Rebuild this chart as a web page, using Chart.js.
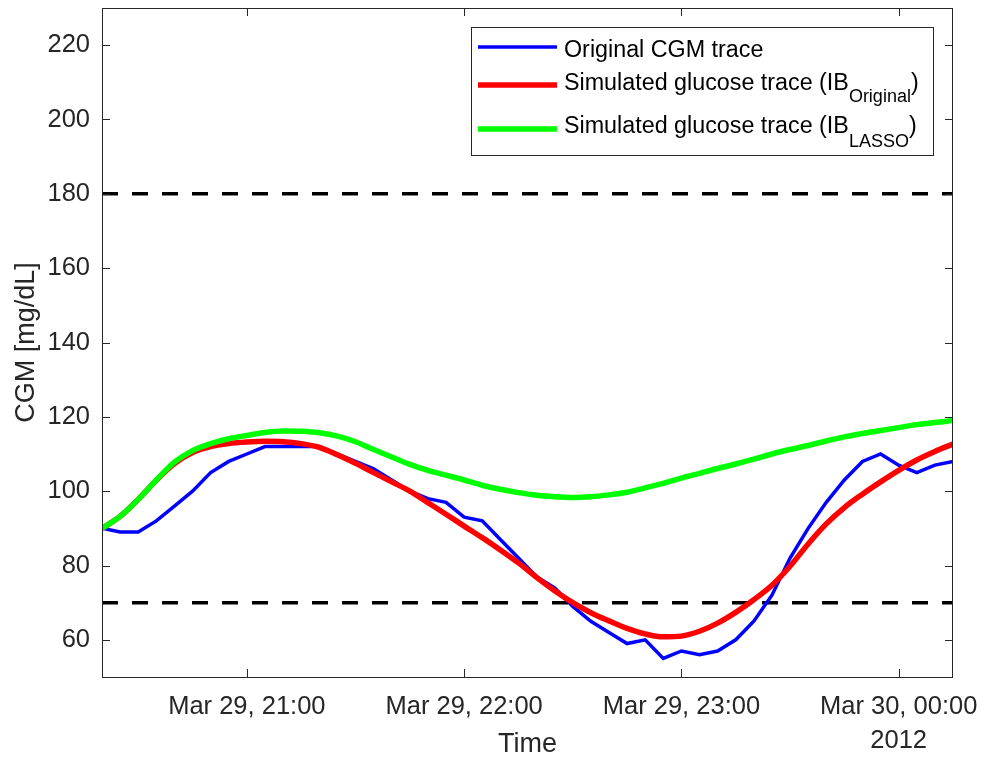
<!DOCTYPE html>
<html>
<head>
<meta charset="utf-8">
<script src="https://cdn.jsdelivr.net/npm/chart.js@4/dist/chart.umd.min.js"></script>
<style>
html,body{margin:0;padding:0;background:#ffffff;}
#wrap{width:982px;height:758px;position:relative;}
</style>
</head>
<body>
<div id="wrap"><canvas id="c" width="982" height="758"></canvas></div>
<script>
// ---- data (5-minute samples, Mar 29 20:20 -> Mar 30 00:15, 2012) ----
const times = [
  '20:20','20:25','20:30','20:35','20:40','20:45','20:50','20:55',
  '21:00','21:05','21:10','21:15','21:20','21:25','21:30','21:35','21:40','21:45','21:50','21:55',
  '22:00','22:05','22:10','22:15','22:20','22:25','22:30','22:35','22:40','22:45','22:50','22:55',
  '23:00','23:05','23:10','23:15','23:20','23:25','23:30','23:35','23:40','23:45','23:50','23:55',
  '00:00','00:05','00:10','00:15'
];
const cgmOriginal = [
  90,89,89,92,96,100,105,108,
  110,112,112,112,112,110,108,106,103,100,98,97,
  93,92,87,82,77,74,69,65,62,59,60,55,
  57,56,57,60,65,72,82,90,97,103,108,110,
  107,105,107,108
];
const simIBOriginal = [
  90,93.2,97.8,102.9,107.4,110.4,112,112.8,
  113.2,113.4,113.3,112.8,111.8,109.8,107.5,105,102.5,100,96.9,93.8,
  90.6,87.5,84.2,80.7,76.8,73.2,70,67.3,65.1,63.1,61.6,60.8,
  61,62.3,64.5,67.4,70.8,74.7,79.8,85.8,91.2,95.6,99.2,102.5,
  105.6,108.4,110.7,112.7
];
const simIBLasso = [
  90,93.2,97.8,103,107.8,110.9,112.8,114.1,
  115,115.8,116.2,116.1,115.7,114.8,113.3,111.2,109.2,107.2,105.6,104.3,
  103,101.6,100.5,99.6,98.9,98.5,98.3,98.5,99,99.7,100.9,102.1,
  103.5,104.8,106.1,107.3,108.6,110,111.2,112.3,113.5,114.6,115.5,116.3,
  117.1,117.9,118.5,119
];
const hypoThreshold = 70;
const hyperThreshold = 180;
const xTickTimes = ['21:00','22:00','23:00','00:00'];
const xTickLabels = [['Mar 29, 21:00'],['Mar 29, 22:00'],['Mar 29, 23:00'],['Mar 30, 00:00','2012']];
const yTickValues = [60,80,100,120,140,160,180,200,220];
const yMin = 50, yMax = 230;
const seriesNames = ['Original CGM trace','Simulated glucose trace (IB','Simulated glucose trace (IB'];
const seriesSubs = ['','Original','LASSO'];

// ---- helpers ----
function toMin(t){ const p=t.split(':').map(Number); const h=p[0]<12?p[0]+24:p[0]; return h*60+p[1]; }
function pts(arr){ return times.map((t,i)=>({x:toMin(t), y:arr[i]})); }
const xMin = toMin(times[0]), xMax = toMin(times[times.length-1]);
const FONT = "'Liberation Sans', Arial, Helvetica, sans-serif";
const AX = '#262626';

const frameAndLegend = {
  id:'frameAndLegend',
  afterDatasetsDraw(chart){
    const ctx = chart.ctx, a = chart.chartArea;
    const xs = chart.scales.x, ys = chart.scales.y;
    ctx.save();
    ctx.strokeStyle = AX; ctx.lineWidth = 1;
    ctx.strokeRect(Math.round(a.left)+0.5, Math.round(a.top)+0.5, Math.round(a.right-a.left)-1, Math.round(a.bottom-a.top));
    const TL = 8;
    ctx.beginPath();
    xTickTimes.forEach(t=>{
      const px = Math.round(xs.getPixelForValue(toMin(t)))+0.5;
      ctx.moveTo(px, a.bottom); ctx.lineTo(px, a.bottom-TL);
      ctx.moveTo(px, a.top); ctx.lineTo(px, a.top+TL);
    });
    yTickValues.forEach(v=>{
      const py = Math.round(ys.getPixelForValue(v))+0.5;
      ctx.moveTo(a.left, py); ctx.lineTo(a.left+TL, py);
      ctx.moveTo(a.right, py); ctx.lineTo(a.right-TL, py);
    });
    ctx.stroke();

    // legend
    const bx=471, by=27, bw=462, bh=128;
    ctx.fillStyle='#ffffff'; ctx.fillRect(bx,by,bw,bh);
    ctx.strokeStyle=AX; ctx.lineWidth=1; ctx.strokeRect(bx+0.5,by+0.5,bw,bh);
    const lineY=[47,85,129], baseY=[57,90,133], subBase=[0,102,147];
    const ds = chart.data.datasets;
    for(let i=0;i<3;i++){
      ctx.strokeStyle = ds[i].borderColor; ctx.lineWidth = ds[i].borderWidth;
      ctx.beginPath(); ctx.moveTo(478,lineY[i]); ctx.lineTo(557,lineY[i]); ctx.stroke();
      ctx.fillStyle='#000000'; ctx.textBaseline='alphabetic'; ctx.textAlign='left';
      ctx.font = '23.3px '+FONT;
      let x = 564;
      ctx.fillText(seriesNames[i], x, baseY[i]);
      if(seriesSubs[i]){
        x += ctx.measureText(seriesNames[i]).width;
        ctx.font = '18px '+FONT;
        ctx.fillText(seriesSubs[i], x, subBase[i]);
        x += ctx.measureText(seriesSubs[i]).width;
        ctx.font = '23.3px '+FONT;
        ctx.fillText(')', x, baseY[i]);
      }
    }
    ctx.restore();
  }
};

new Chart(document.getElementById('c'), {
  type:'line',
  data:{
    datasets:[
      {label:'Original CGM trace', data:pts(cgmOriginal), borderColor:'#0000ff', borderWidth:3.5, tension:0, pointRadius:0, fill:false, order:2},
      {label:'Simulated glucose trace (IB Original)', data:pts(simIBOriginal), borderColor:'#ff0000', borderWidth:5.5, cubicInterpolationMode:'monotone', pointRadius:0, fill:false, order:1},
      {label:'Simulated glucose trace (IB LASSO)', data:pts(simIBLasso), borderColor:'#00ff00', borderWidth:5.5, cubicInterpolationMode:'monotone', pointRadius:0, fill:false, order:0},
      {label:'hyper', data:[{x:xMin,y:hyperThreshold},{x:xMax,y:hyperThreshold}], borderColor:'#000000', borderWidth:3.5, borderDash:[16,14], pointRadius:0, fill:false, order:3},
      {label:'hypo', data:[{x:xMin,y:hypoThreshold},{x:xMax,y:hypoThreshold}], borderColor:'#000000', borderWidth:3.5, borderDash:[16,14], pointRadius:0, fill:false, order:3}
    ]
  },
  options:{
    responsive:false, animation:false, devicePixelRatio:1,
    layout:{padding:{top:8,right:29,left:0,bottom:0}},
    plugins:{legend:{display:false}, tooltip:{enabled:false}},
    scales:{
      x:{
        type:'linear', position:'bottom', min:xMin, max:xMax,
        afterBuildTicks:s=>{ s.ticks = xTickTimes.map(t=>({value:toMin(t)})); },
        ticks:{ autoSkip:false, maxRotation:0, minRotation:0, padding:13, color:AX,
          font:{family:FONT, size:25.5, lineHeight:1.33},
          callback:(v,i)=>xTickLabels[i] },
        grid:{display:false, drawTicks:false}, border:{display:false},
        title:{display:true, text:'Time', color:AX, font:{family:FONT, size:27, lineHeight:1}, padding:{top:0,bottom:0}},
        afterFit:s=>{ s.height = 81; s.paddingLeft = 0; s.paddingRight = 0; }
      },
      y:{
        type:'linear', position:'left', min:yMin, max:yMax,
        afterBuildTicks:s=>{ s.ticks = yTickValues.map(v=>({value:v})); },
        ticks:{ padding:12, color:AX, font:{family:FONT, size:25.5}, callback:v=>String(v) },
        grid:{display:false, drawTicks:false}, border:{display:false},
        title:{display:true, text:'CGM [mg/dL]', color:AX, font:{family:FONT, size:27, lineHeight:1}, padding:{top:13.5,bottom:0}},
        afterFit:s=>{ s.width = 102; s.paddingTop = 0; s.paddingBottom = 0; }
      }
    }
  },
  plugins:[frameAndLegend]
});
</script>
</body>
</html>
